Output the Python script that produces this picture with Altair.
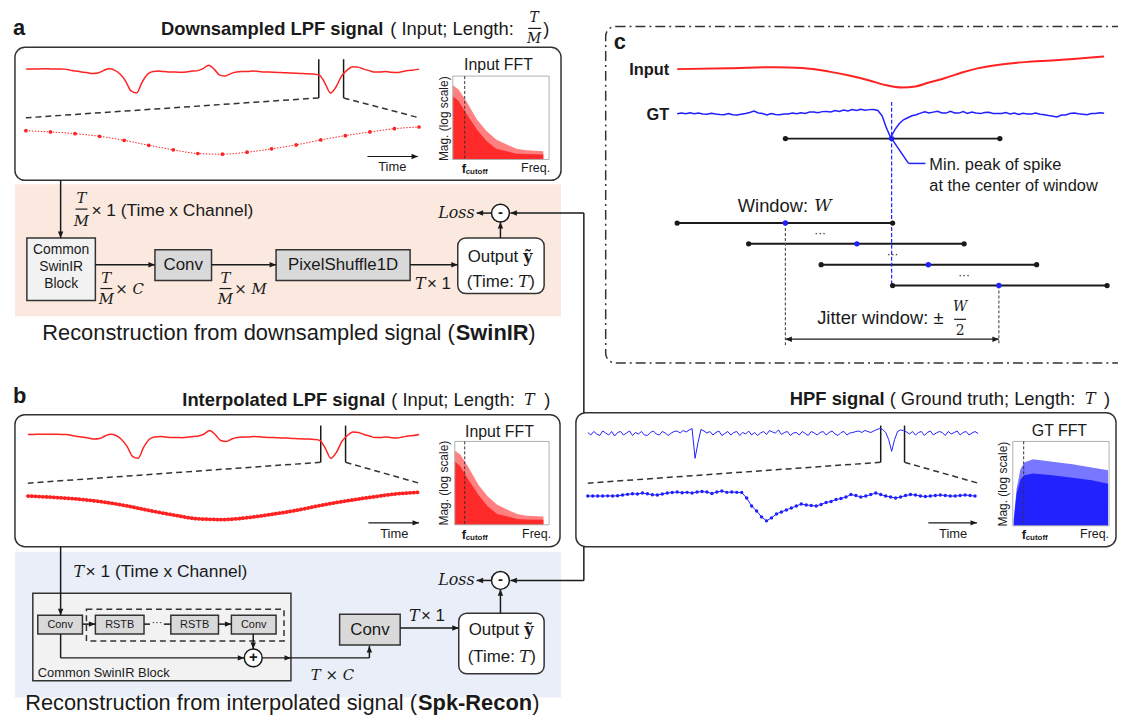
import altair as alt
import pandas as pd

OFF = 8
W, H = 1118, 711
SANS = "Liberation Sans"
SERIF = "DejaVu Serif"
INK = "#1a1a1a"
RED = "#ff2222"
BLUE = "#2020ff"

# ---------------- signal data ----------------
lpf_wave = [0, 0.1, 0.2, 0.3, 0.3, 0.2, 0.1, 0, -1.0, -2.0, -2.8, -3.5, -4.5, -4.0, -1.5, 0.3,
            -1.0, -5, -12, -22, -24, -13, -5, -2.5, -2, -2.5, -3, -3, -3.2, -2.8, -2, -1.5, 0.5,
            4, 0, -6, -7, -4.5, -3, -2.5, -2.5, -2, -2.3, -2.8, -3, -3.2, -3.5, -3.6, -4, -4.2,
            -4.5, -4.6, -5, -6, -14, -24, -18, -7, -1, 2.5, 2, 0, -1.5, -3, -3, -2.5, -3.2, -3.5,
            -2.5, -1.5, -1, 0]
lpf_down = [0, -1.3, -3, -5.7, -9.7, -14.7, -19.3, -23, -23.7, -21.7, -18.3, -14.3, -9.3, -5,
            -1.3, 2, 3.7]
hpf_wave = [1.0, -1.5, 2.0, -0.5, -2.0, 2.5, 0.5, -1.5, 2.0, -2.5,
            1.0, 2.0, -1.5, 0.5, 2.5, -2.0, 1.0, -0.5, 2.0, -1.5,
            -2.0, 1.0, 2.5, -0.5, -1.5, 2.0, 0.5, -2.0, 0.5, 2.0,
            2.5, 0.5, 3.0, 1.5, 3.5, 5.0, -25.0, -9.0, 4.0, 2.5,
            0.5, 2.0, -1.5, 1.0, 2.5, -2.0, 0.0, 2.0, -1.5, 1.0,
            2.0, -2.0, 1.0, -0.5, 2.5, -1.5, 1.0, -2.0, 0.5, 2.0,
            -1.0, 3.0, 1.5, 0.5, 3.5, -1.0, 1.0, 2.0, -2.0, 0.5,
            1.0, -1.5, 2.0, 0.0, -2.0, 2.0, 0.5, -1.5, 1.0, 2.0,
            -1.5, 1.0, 2.5, -0.5, -2.0, 1.0, 2.0, -1.5, 0.5, 1.0,
            2.0, 2.5, 1.0, 3.0, 2.0, 1.0, 2.5, 4.0, 5.0, 4.0,
            1.0, -6.0, -18.0, -6.0, 2.0, 3.5, 3.0, 1.5, -0.5, 2.0,
            -1.5, 1.0, 2.0, -2.0, 1.0, 2.5, -1.5, 0.5, 2.0, 1.0,
            -2.0, 2.0, -0.5, 1.0, 2.5, -1.5, 1.0, 2.0, -1.5, 0.5,
            2.0, 0.0]
hpf_zoom = [0, 0, 0, 0, 0.2, 0, 0.3, 1, 1.7, 2.3,
            2, 3, 2.3, 1.3, 1, 2, 3, 3.5, 4, 3.3,
            3.7, 3, 4, 4.5, 4, 2.5, 4, 5, 3.7, 4,
            3.7, 3.5, -2, -10, -15, -21, -25, -22, -18, -16,
            -14, -12, -10, -8, -9, -9.5, -10, -8.5, -6.5, -5.5,
            -3.5, -2.5, -1, 1.5, 0.5, -1, 0, 1.5, 3, 1.5,
            0, -1, -2, -1, 0.5, 1.5, 1, 0, -0.5, 0,
            0.5, 1, 0.5, 0, 0, 0.5, 1, 0.5, 0]
gt_wave = [0, 0.8, 0.1, 1.0, 0.0, 0.7, -0.2, -0.5, 0.6, -0.2, -0.6, -0.9, 0.3, -1.0, -1.2, -0.4,
           0.4, 1.4, 2.7, 0.9, 0.2, -1.1, 0.2, -0.7, -0.9, -0.1, -0.3, 0.7, 0.0, 1.0, 0.3, 1.7,
           1.9, 1.0, 2.2, 2.4, 1.8, 3.2, 2.3, 3.7, 2.8, 4.2, 3.3, 4.6, 3.6, 4.2, 4.4, 3.4, -2, -14,
           -24, -16, -10, -6, -4, -2, -1, 0.7, 2.1, 0.8, 1.7, 2.6, 0.8, 0.7, 2.6, 0.8, 0.7, 2.2,
           0.3, 1.7, 0.8, 0.2, 1.2, 1.6, 0.3, 0.2, 0.4, 1.2, -0.2, 0.7, -0.7, 0.5, -0.2, -0.3, 0.7,
           -0.5, -0.9, -1.7, -2.4, -3.1, -1.3, -1.1, 0.2, 0.9, 0.1, -0.4, -0.9, 0.2, 0.4, 1.1, 0.5]
c_input_time = [0, 12, 23, 29.3, 35.6, 40.3, 45, 48.8, 52.7, 55.8, 59, 62.8, 66.7, 70.6, 74.6,
                78.5, 82.4, 90.1, 100]
c_input_wave = [0, 0.8, 2, 1.2, -2.5, -6.5, -11.4, -16, -18.5, -17.5, -13.5, -9, -3.4, 1, 4, 6,
                7.4, 9.4, 12.8]
lpf_fft_freq = [0, 0.06, 0.14, 0.25, 0.35, 0.45, 0.56, 0.66, 0.76, 0.94]
lpf_fft_outer = [0.89, 0.84, 0.70, 0.48, 0.34, 0.24, 0.18, 0.13, 0.11, 0.10]
lpf_fft_inner = [0.76, 0.70, 0.55, 0.36, 0.22, 0.13, 0.10, 0.07, 0.065, 0.06]
gt_fft_freq = [0.01, 0.04, 0.08, 0.12, 0.21, 0.41, 0.62, 0.82, 0.99]
gt_fft_outer = [0.08, 0.44, 0.67, 0.75, 0.79, 0.76, 0.73, 0.69, 0.66]
gt_fft_inner = [0.06, 0.38, 0.55, 0.60, 0.62, 0.60, 0.57, 0.54, 0.50]

# ---------------- diagram layout ----------------
bg_rects = [(15, 183, 565, 316, "#fbe9df"), (15, 553, 565, 700, "#e9eef8")]
panel_boxes = [(15, 45, 565, 179, "white"), (15, 415, 564, 548, "white"),
               (580, 413, 1124, 548, "white")]
output_boxes = [(461, 237, 548, 293, "white"), (462, 615, 548, 676, "white")]
block_boxes = [(27, 237, 96, 300, "#f2f2f2"), (156, 249, 213, 280, "#d9d9d9"),
               (278, 249, 413, 280, "#d9d9d9"), (33, 595, 293, 683, "#f2f2f2"),
               (38, 617, 83, 636, "#d9d9d9"), (96, 617, 145, 636, "#d9d9d9"),
               (172, 617, 220, 636, "#d9d9d9"), (233, 617, 278, 636, "#d9d9d9"),
               (342, 616, 403, 647, "#d9d9d9")]
dashed_boxes = [(87, 611, 286, 643, "transparent")]
c_box = [(610, 24, 1140, 363, "transparent")]
fft_frames = [(456, 74, 553, 158, "transparent"), (458, 442, 553, 526, "transparent"),
              (1020, 442, 1117, 527, "transparent")]

solid_lines = [
    (61, 179, 61, 237), (96, 264, 156, 264), (213, 264, 278, 264), (413, 264, 461, 264),
    (504, 237, 504, 221), (495, 212, 480, 212), (588, 212, 514, 212), (588, 212, 588, 413),
    (61, 548, 61, 617), (83, 626, 96, 626), (145, 626, 151, 626), (165, 626, 172, 626),
    (220, 626, 233, 626), (255, 636, 255, 651), (61, 636, 61, 660), (61, 660, 246, 660),
    (264, 660, 372, 660), (372, 660, 372, 648), (403, 630, 462, 630), (504, 615, 504, 591),
    (495, 582, 480, 582), (588, 582, 514, 582), (588, 548, 588, 582),
    (321, 57, 321, 96), (346, 57, 346, 96), (323, 426, 323, 463), (348, 426, 348, 463),
    (887, 426, 887, 463), (911, 426, 911, 463),
]
thin_lines = [(370, 155, 421, 155), (371, 524, 422, 524), (935, 524, 984, 524),
              (532, 26, 545, 26), (76, 208, 88, 208), (101, 288, 113, 288), (221, 288, 233, 288),
              (961, 319, 973, 319), (791, 339, 1006, 339)]
window_lines = [(791, 137, 1007, 137), (682, 222, 899, 222), (754, 243, 971, 243),
                (827, 264, 1044, 264), (899, 285, 1115, 285)]
zoom_dash = [(321, 96, 26, 116), (346, 96, 422, 116), (323, 463, 28, 484), (348, 463, 422, 484),
             (887, 463, 592, 484), (911, 463, 985, 484)]
cutoff_dash = [(468, 74, 468, 158), (468, 442, 468, 526), (1031, 442, 1031, 527)]
grey_dash = [(791, 222, 791, 345), (1006, 285, 1006, 345)]
blue_dash = [(898, 100, 898, 285)]
blue_pointer = [(898, 137, 915, 162), (915, 162, 932, 162)]

arrow_heads = [(61, 237, 90), (156, 264, 0), (278, 264, 0), (461, 264, 0), (504, 221, 270),
               (480, 212, 180), (514, 212, 180), (61, 617, 90), (96, 626, 0), (233, 626, 0),
               (255, 651, 90), (246, 660, 0), (293, 660, 0), (372, 648, 270), (462, 630, 0),
               (504, 591, 270), (480, 582, 180), (514, 582, 180),
               (421, 155, 0), (422, 524, 0), (984, 524, 0), (791, 339, 180), (1006, 339, 0)]
op_nodes = [(504, 212, "-"), (504, 582, "-"), (255, 660, "+")]
black_dots = [(791, 137), (1007, 137), (682, 222), (899, 222), (754, 243), (971, 243),
              (827, 264), (1044, 264), (899, 285), (1115, 285)]
blue_dots = [(898, 137), (791, 222), (863, 243), (935, 264), (1006, 285)]

# text: (x, y, text, size)
sans_left = [(393, 27, "( Input; Length: ", 18.5), (547, 27, ")", 18.5),
             (92, 210, "× 1 (Time x Channel)", 17.5),
             (394, 400, "( Input; Length: ", 18.5), (548, 400, ")", 18.5),
             (86, 574, "× 1 (Time x Channel)", 17.5),
             (430, 283, "× 1", 17), (424, 618, "× 1", 17),
             (896, 399, "( Ground truth; Length: ", 18.5), (1112, 399, ")", 18.5),
             (743, 205, "Window: ", 18.5), (823, 318, "Jitter window: ±", 18.5),
             (936, 164, "Min. peak of spike", 16.5), (936, 185, "at the center of window", 16.5),
             (471, 256, "Output ", 17), (470, 281, "(Time: ", 17), (533, 281, ")", 17),
             (472, 632, "Output ", 17), (471, 659, "(Time: ", 17), (534, 659, ")", 17),
             (38, 675, "Common SwinIR Block", 13), (532, 333, ")", 22), (536, 706, ")", 22)]
sans_center = [(502, 63, "Input FFT", 16), (395, 166, "Time", 13),
               (61.5, 249, "Common", 14), (61.5, 266, "SwinIR", 14), (61.5, 283, "Block", 14),
               (184.5, 264.5, "Conv", 17), (345.5, 264.5, "PixelShuffle1D", 17),
               (503, 433, "Input FFT", 16), (397, 535, "Time", 13),
               (60.5, 626.5, "Conv", 11), (120.5, 626.5, "RSTB", 11), (196, 626.5, "RSTB", 11),
               (255.5, 626.5, "Conv", 11), (158, 625, "···", 11), (372.5, 631.5, "Conv", 17),
               (1067, 432, "GT FFT", 16), (960, 535, "Time", 13),
               (826, 232, "···", 12), (899, 253, "···", 12), (971, 274, "···", 12)]
sans_right = [(554, 167, "Freq.", 12.5), (555, 535, "Freq.", 12.5), (1117, 535, "Freq.", 12.5),
              (458, 333, "Reconstruction from downsampled signal (", 22),
              (420, 706, "Reconstruction from interpolated signal (", 22)]
sans_rotated = [(447, 117, "Mag. (log scale)", 12), (447, 484, "Mag. (log scale)", 12),
                (1010, 485, "Mag. (log scale)", 12)]
bold_left = [(13, 26, "a", 22), (13, 396, "b", 22), (618, 40, "c", 22),
             (459, 333, "SwinIR", 22), (421, 706, "Spk-Recon", 22),
             (465, 168, "f", 13), (465, 536, "f", 13), (1029, 536, "f", 13),
             (469, 171, "cutoff", 8), (469, 539, "cutoff", 8), (1033, 539, "cutoff", 8)]
bold_right = [(386, 27, "Downsampled LPF signal", 18.5), (388, 400, "Interpolated LPF signal", 18.5),
              (891, 399, "HPF signal", 18.5), (674, 68, "Input", 16.5), (674, 113, "GT", 16.5)]
bold_center = [(504, 211, "-", 15), (504, 581, "-", 15), (255, 659, "+", 15)]
math_center = [(538, 16, "T", 14), (538, 37, "M", 14), (82, 197, "T", 15), (82, 220, "M", 15),
               (107, 277, "T", 15), (107, 299, "M", 15), (227, 277, "T", 15), (227, 299, "M", 15),
               (533, 400, "T", 16), (1098, 399, "T", 16), (967, 307, "W", 14)]
math_left = [(116, 288, "× C", 15), (236, 288, "× M", 15), (418, 283, "T", 16), (522, 281, "T", 16),
             (74, 574, "T", 16), (412, 618, "T", 16), (313, 677, "T × C", 15), (523, 659, "T", 16),
             (820, 205, "W", 17)]
math_right = [(478, 212, "Loss", 16), (478, 582, "Loss", 16)]
math_bold_left = [(527, 256, "ỹ", 16), (528, 632, "ỹ", 16)]
math_plain_center = [(967, 331, "2", 14)]

ARROW = "M0,0L-1,-0.42L-1,0.42Z"


def sx():
    return alt.Scale(domain=[OFF, OFF + W], range=[0, W], nice=False, zero=False)


def sy():
    return alt.Scale(domain=[OFF, OFF + H], range=[0, H], nice=False, zero=False)


def XQ(f):
    return alt.X(f"{f}:Q", scale=sx(), axis=None)


def YQ(f):
    return alt.Y(f"{f}:Q", scale=sy(), axis=None)


def rects(rows, **mark):
    df = pd.DataFrame(rows, columns=["x0", "y0", "x1", "y1", "fill"])
    return alt.Chart(df).mark_rect(**mark).encode(
        x=XQ("x0"), x2="x1:Q", y=YQ("y0"), y2="y1:Q", fill=alt.Fill("fill:N", scale=None))


def segs(rows, **mark):
    df = pd.DataFrame(rows, columns=["x0", "y0", "x1", "y1"])
    return alt.Chart(df).mark_rule(**mark).encode(x=XQ("x0"), y=YQ("y0"), x2="x1:Q", y2="y1:Q")


def heads(rows, color=INK, size=170):
    df = pd.DataFrame(rows, columns=["x", "y", "ang"])
    return alt.Chart(df).mark_point(shape=ARROW, filled=True, color=color, size=size, opacity=1,
                                    strokeWidth=0).encode(
        x=XQ("x"), y=YQ("y"), angle=alt.Angle("ang:Q", scale=None))


def dots(rows, color, size):
    df = pd.DataFrame(rows, columns=["x", "y"])
    return alt.Chart(df).mark_point(shape="circle", filled=True, color=color, size=size,
                                    opacity=1).encode(x=XQ("x"), y=YQ("y"))


def texts(rows, font=SANS, weight="normal", style="normal", align="center", angle=0, color=INK):
    df = pd.DataFrame(rows, columns=["x", "y", "t", "s"])
    mk = dict(font=font, fontWeight=weight, fontStyle=style, align=align, baseline="middle",
              color=color)
    if angle:
        mk["angle"] = angle
    return alt.Chart(df).mark_text(**mk).encode(
        x=XQ("x"), y=YQ("y"), text="t:N", size=alt.Size("s:Q", scale=None))


def sig(vals, x0, x1, base, t=None, k=1.0, tdom=None):
    t = list(range(len(vals))) if t is None else t
    df = pd.DataFrame({"t": t, "v": vals})
    lo, hi = min(vals), max(vals)
    dom = tdom if tdom else [t[0], t[-1]]
    xs = alt.Scale(domain=dom, range=[x0 - OFF, x1 - OFF], nice=False, zero=False)
    ys = alt.Scale(domain=[lo, hi], range=[base - lo * k - OFF, base - hi * k - OFF],
                   nice=False, zero=False)
    return alt.Chart(df).encode(x=alt.X("t:Q", scale=xs, axis=None),
                                y=alt.Y("v:Q", scale=ys, axis=None))


def fft(freq, mag, box, color, opacity=1.0):
    x0, y0, x1, y1 = box
    df = pd.DataFrame({"f": freq, "m": mag, "z": [0] * len(freq)})
    xs = alt.Scale(domain=[0, 1], range=[x0 - OFF, x1 - OFF], nice=False, zero=False)
    ys = alt.Scale(domain=[0, 1], range=[y1 - OFF, y0 - OFF], nice=False, zero=False)
    return alt.Chart(df).mark_area(color=color, opacity=opacity).encode(
        x=alt.X("f:Q", scale=xs, axis=None), y=alt.Y("m:Q", scale=ys, axis=None), y2="z:Q")


layers = [
    rects(bg_rects),
    rects(panel_boxes, stroke="#333333", strokeWidth=1.5, cornerRadius=10),
    rects(c_box, stroke="#333333", strokeWidth=1.5, cornerRadius=10, strokeDash=[10, 4, 2, 4]),
    rects(block_boxes, stroke="#333333", strokeWidth=1.5),
    rects(output_boxes, stroke="#333333", strokeWidth=1.5, cornerRadius=8),
    rects(dashed_boxes, stroke="#333333", strokeWidth=1.5, strokeDash=[6, 4]),
    # FFT panels
    fft(lpf_fft_freq, lpf_fft_outer, (456, 74, 553, 158), "#ff8080"),
    fft(lpf_fft_freq, lpf_fft_inner, (456, 74, 553, 158), "#ff2a2a"),
    fft(lpf_fft_freq, lpf_fft_outer, (458, 442, 553, 526), "#ff8080"),
    fft(lpf_fft_freq, lpf_fft_inner, (458, 442, 553, 526), "#ff2a2a"),
    fft(gt_fft_freq, gt_fft_outer, (1020, 442, 1117, 527), "#7777ff"),
    fft(gt_fft_freq, gt_fft_inner, (1020, 442, 1117, 527), "#2222ff"),
    rects(fft_frames, stroke="#b0b0b0", strokeWidth=1),
    # lines
    segs(solid_lines, color=INK, strokeWidth=1.5),
    segs(thin_lines, color=INK, strokeWidth=1.2),
    segs(window_lines, color=INK, strokeWidth=2),
    segs(zoom_dash, color="#333333", strokeWidth=1.5, strokeDash=[6, 4]),
    segs(cutoff_dash, color="#333333", strokeWidth=1, strokeDash=[3, 2]),
    segs(grey_dash, color="#555555", strokeWidth=1.2, strokeDash=[3, 2]),
    segs(blue_dash, color=BLUE, strokeWidth=1.2, strokeDash=[4, 2]),
    segs(blue_pointer, color=BLUE, strokeWidth=1.5),
    heads(arrow_heads),
    # signals
    sig(lpf_wave, 26, 422, 67).mark_line(color=RED, strokeWidth=1.5, interpolate="monotone"),
    sig(lpf_wave, 28, 422, 435).mark_line(color=RED, strokeWidth=1.5, interpolate="monotone"),
    sig(lpf_down, 26, 422, 129).mark_line(color=RED, strokeWidth=1, strokeDash=[1.5, 1.5],
                                          interpolate="monotone"),
    sig(lpf_down, 26, 422, 129).mark_point(color=RED, filled=True, size=14, opacity=1),
    sig(lpf_down, 28, 422, 497).mark_line(color=RED, strokeWidth=3.8, strokeDash=[0.5, 3.2],
                                          strokeCap="round", interpolate="monotone"),
    sig(hpf_wave, 592, 985, 434).mark_line(color=BLUE, strokeWidth=1),
    sig(hpf_zoom, 592, 982, 497).mark_line(color=BLUE, strokeWidth=1),
    sig(hpf_zoom, 592, 982, 497).mark_point(color=BLUE, filled=True, size=12, opacity=1),
    sig(c_input_wave, 682, 1112, 67, t=c_input_time, tdom=[0, 100]).mark_line(
        color=RED, strokeWidth=2, interpolate="monotone"),
    sig(gt_wave, 682, 1112, 112).mark_line(color=BLUE, strokeWidth=1.5),
    dots(black_dots, INK, 28),
    dots(blue_dots, BLUE, 30),
    # operator nodes
    alt.Chart(pd.DataFrame(op_nodes, columns=["x", "y", "t"])).mark_point(
        shape="circle", size=324, fill="white", stroke=INK, strokeWidth=1.5, opacity=1,
        fillOpacity=1).encode(x=XQ("x"), y=YQ("y")),
    # texts
    texts(sans_left, align="left"),
    texts(sans_center),
    texts(sans_right, align="right"),
    texts(sans_rotated, angle=270),
    texts(bold_left, weight="bold", align="left"),
    texts(bold_right, weight="bold", align="right"),
    texts(bold_center, weight="bold"),
    texts(math_center, font=SERIF, style="italic"),
    texts(math_left, font=SERIF, style="italic", align="left"),
    texts(math_right, font=SERIF, style="italic", align="right"),
    texts(math_bold_left, font=SERIF, weight="bold", align="left"),
    texts(math_plain_center, font=SERIF),
]

chart = alt.layer(*layers).resolve_scale(x="independent", y="independent").properties(
    width=W, height=H, padding=0, autosize="none", background="white"
).configure_view(stroke=None)

chart.save("out.html", embed_options={"renderer": "svg", "actions": False})
